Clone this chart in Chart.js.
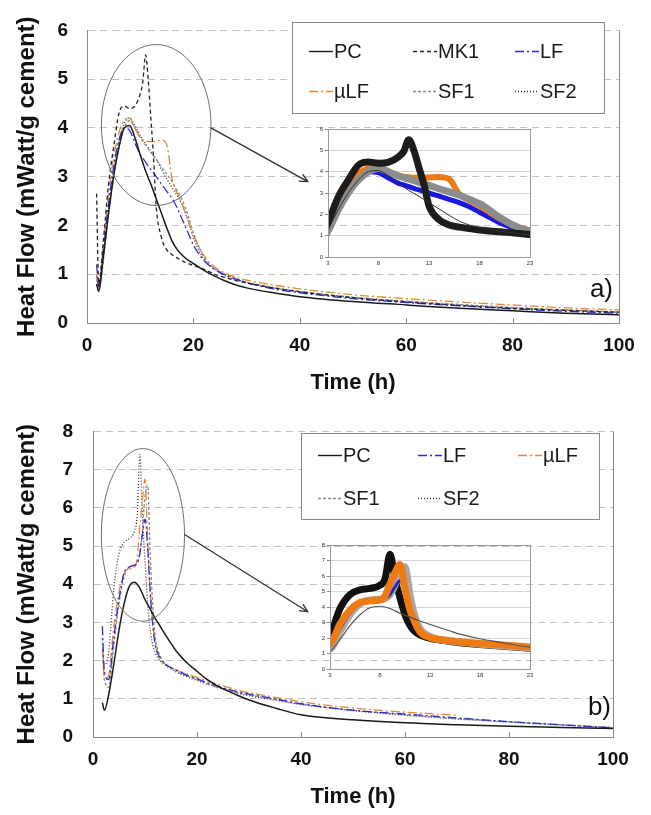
<!DOCTYPE html>
<html>
<head>
<meta charset="utf-8">
<script src="https://cdn.jsdelivr.net/npm/chart.js@4"></script>
<style>
  body { margin: 0; background: #fff; }
  #wrap { position: relative; width: 651px; height: 815px; }
  canvas { position: absolute; }
</style>
</head>
<body>
<div id="wrap">
  <canvas id="chartA" width="651" height="400" style="left:0;top:0"></canvas>
  <canvas id="insetA" width="230" height="150" style="left:310px;top:120px"></canvas>
  <canvas id="chartB" width="651" height="415" style="left:0;top:400px"></canvas>
  <canvas id="insetB" width="230" height="150" style="left:310px;top:535px"></canvas>
</div>
<script>
// tick values
var xTickVals = [0, 20, 40, 60, 80, 100];
var yTicksA = [0, 1, 2, 3, 4, 5, 6];
var yTicksB = [0, 1, 2, 3, 4, 5, 6, 7, 8];
var insetXTicks = [3, 8, 13, 18, 23];

// panel a) - time (h) and heat flow (mWatt/g cement)
var timesA = [1.8, 2.2, 3, 4, 5, 6, 7, 8, 9, 10, 10.5, 11, 11.5, 12, 12.5, 13, 14, 15, 16, 17, 18, 19, 20, 22, 24, 26, 28, 30, 35, 40, 50, 60, 70, 80, 90, 100];
var pcA  = [0.8, 0.65, 1.3, 2.2, 3.0, 3.6, 4.0, 4.05, 3.8, 3.45, 3.28, 3.12, 2.98, 2.85, 2.7, 2.55, 2.25, 1.95, 1.68, 1.5, 1.38, 1.29, 1.22, 1.08, 0.96, 0.86, 0.78, 0.72, 0.62, 0.54, 0.44, 0.37, 0.3, 0.25, 0.2, 0.17];
var mk1A = [2.65, 0.8, 1.6, 2.8, 3.6, 4.3, 4.45, 4.4, 4.45, 4.7, 4.95, 5.5, 5.0, 4.2, 3.4, 2.4, 1.75, 1.5, 1.4, 1.33, 1.27, 1.22, 1.18, 1.1, 1.0, 0.93, 0.87, 0.82, 0.72, 0.64, 0.52, 0.43, 0.36, 0.3, 0.26, 0.22];
var lfA  = [1.2, 0.75, 1.4, 2.4, 3.2, 3.75, 4.0, 3.95, 3.7, 3.45, 3.38, 3.3, 3.22, 3.15, 3.08, 3.0, 2.85, 2.7, 2.55, 2.35, 2.1, 1.85, 1.6, 1.28, 1.1, 0.98, 0.9, 0.83, 0.7, 0.62, 0.5, 0.42, 0.35, 0.29, 0.24, 0.2];
var ulfA = [1.0, 0.7, 1.5, 2.6, 3.4, 3.9, 4.15, 4.2, 4.0, 3.8, 3.76, 3.74, 3.72, 3.72, 3.72, 3.73, 3.75, 3.65, 2.95, 2.65, 2.4, 2.1, 1.8, 1.38, 1.15, 1.02, 0.94, 0.88, 0.78, 0.7, 0.58, 0.5, 0.43, 0.37, 0.31, 0.27];
var sf1A = [0.9, 0.65, 1.2, 2.2, 3.0, 3.6, 4.0, 4.15, 4.0, 3.8, 3.72, 3.65, 3.58, 3.5, 3.43, 3.36, 3.2, 3.05, 2.9, 2.7, 2.5, 2.2, 1.85, 1.35, 1.12, 1.0, 0.91, 0.84, 0.73, 0.65, 0.53, 0.45, 0.38, 0.32, 0.27, 0.23];
var sf2A = [1.0, 0.7, 1.3, 2.3, 3.1, 3.7, 4.1, 4.2, 4.05, 3.85, 3.76, 3.68, 3.6, 3.52, 3.44, 3.36, 3.15, 2.95, 2.78, 2.6, 2.4, 2.1, 1.75, 1.3, 1.1, 0.97, 0.89, 0.83, 0.72, 0.64, 0.52, 0.44, 0.37, 0.31, 0.26, 0.22];

// panel b)
var timesB = [1.8, 2.2, 3, 4, 5, 6, 7, 8, 8.5, 9, 9.5, 10, 10.5, 11, 11.5, 12, 13, 14, 15, 16, 18, 20, 22, 24, 26, 28, 30, 35, 40, 50, 60, 70, 80, 90, 100];
var pcB  = [0.9, 0.7, 1.1, 1.9, 2.8, 3.5, 3.95, 4.05, 4.0, 3.9, 3.75, 3.6, 3.47, 3.35, 3.22, 3.1, 2.88, 2.66, 2.45, 2.25, 1.95, 1.72, 1.5, 1.33, 1.2, 1.08, 0.97, 0.76, 0.58, 0.45, 0.37, 0.32, 0.28, 0.25, 0.22];
var lfB  = [2.9, 1.7, 1.5, 2.6, 3.6, 4.3, 4.45, 4.5, 4.55, 4.8, 5.3, 5.7, 5.0, 3.8, 2.9, 2.4, 2.05, 1.9, 1.82, 1.75, 1.62, 1.52, 1.42, 1.33, 1.25, 1.18, 1.12, 1.0, 0.87, 0.7, 0.6, 0.5, 0.4, 0.32, 0.24];
var ulfB = [2.3, 1.5, 1.6, 2.9, 3.8, 4.3, 4.4, 4.45, 4.7, 5.5, 6.2, 6.75, 5.2, 3.8, 3.0, 2.4, 2.02, 1.9, 1.82, 1.76, 1.65, 1.56, 1.47, 1.38, 1.3, 1.22, 1.16, 1.04, 0.92, 0.76, 0.65, 0.57, null, null, null];
var sf1B = [2.6, 1.5, 1.3, 2.4, 3.5, 4.2, 4.45, 4.5, 4.55, 4.8, 5.4, 6.3, 6.6, 4.8, 3.4, 2.6, 2.1, 1.9, 1.8, 1.72, 1.6, 1.5, 1.4, 1.3, 1.22, 1.15, 1.1, 0.98, 0.86, 0.7, 0.58, 0.48, 0.4, 0.32, 0.25];
var sf2B = [2.0, 1.9, 2.2, 3.9, 4.8, 5.1, 5.2, 5.4, 5.8, 7.4, 5.8, 4.6, 3.5, 2.8, 2.4, 2.2, 1.98, 1.87, 1.78, 1.7, 1.58, 1.48, 1.38, 1.29, 1.21, 1.14, 1.08, 0.96, 0.85, 0.69, 0.57, 0.47, 0.39, 0.31, 0.24];

Chart.defaults.font.family = "'Liberation Sans', Arial, sans-serif";
Chart.defaults.color = "#111";

function pts(times, vals) {
  return times.map(function (t, i) { return { x: t, y: vals[i] }; });
}
function ticksFrom(list) {
  return function (scale) {
    scale.ticks = list.map(function (v) { return { value: v }; });
  };
}

// ellipse, arrow, legend box, inner ticks, panel tag
var decor = {
  id: "decor",
  afterDatasetsDraw: function (chart, args, o) {
    if (!o || !o.ellipse) return;
    var ctx = chart.ctx, a = chart.chartArea, xs = chart.scales.x, ys = chart.scales.y;
    ctx.save();
    ctx.setLineDash([]);
    ctx.strokeStyle = "#8a8a8a";
    ctx.lineWidth = 1;
    ctx.beginPath();
    ctx.moveTo(Math.round(a.right) + 0.5, a.top);
    ctx.lineTo(Math.round(a.right) + 0.5, a.bottom);
    ctx.stroke();
    xs.ticks.forEach(function (t) {
      if (t.value <= xs.min || t.value >= xs.max) return;
      var px = Math.round(xs.getPixelForValue(t.value)) + 0.5;
      ctx.beginPath();
      ctx.moveTo(px, a.bottom);
      ctx.lineTo(px, a.bottom - 5);
      ctx.stroke();
    });

    var e = o.ellipse;
    var cx = xs.getPixelForValue(e.x), cy = ys.getPixelForValue(e.y);
    var rx = xs.getPixelForValue(e.x + e.rx) - cx;
    var ry = cy - ys.getPixelForValue(e.y + e.ry);
    ctx.strokeStyle = "#6f6f6f";
    ctx.beginPath();
    ctx.ellipse(cx, cy, rx, ry, 0, 0, 2 * Math.PI);
    ctx.stroke();

    var ar = o.arrow;
    var x0 = xs.getPixelForValue(ar.x0), y0 = ys.getPixelForValue(ar.y0);
    var x1 = xs.getPixelForValue(ar.x1), y1 = ys.getPixelForValue(ar.y1);
    var ang = Math.atan2(y1 - y0, x1 - x0);
    ctx.strokeStyle = "#333";
    ctx.lineWidth = 1.3;
    ctx.beginPath();
    ctx.moveTo(x0, y0);
    ctx.lineTo(x1, y1);
    ctx.moveTo(x1 - 9 * Math.cos(ang - 0.45), y1 - 9 * Math.sin(ang - 0.45));
    ctx.lineTo(x1, y1);
    ctx.lineTo(x1 - 9 * Math.cos(ang + 0.45), y1 - 9 * Math.sin(ang + 0.45));
    ctx.stroke();

    var b = o.legend.box;
    ctx.fillStyle = "#fff";
    ctx.fillRect(b[0], b[1], b[2], b[3]);
    ctx.strokeStyle = "#8a8a8a";
    ctx.lineWidth = 1;
    ctx.strokeRect(b[0] + 0.5, b[1] + 0.5, b[2], b[3]);
    ctx.font = "20px 'Liberation Sans', Arial, sans-serif";
    ctx.textBaseline = "middle";
    ctx.textAlign = "left";
    o.legend.items.forEach(function (it) {
      var ds = chart.data.datasets[it.ds];
      ctx.strokeStyle = ds.borderColor;
      ctx.lineWidth = 1.4;
      ctx.setLineDash(ds.borderDash || []);
      ctx.beginPath();
      ctx.moveTo(it.x, it.y + 0.5);
      ctx.lineTo(it.x + 24, it.y + 0.5);
      ctx.stroke();
      ctx.setLineDash([]);
      ctx.fillStyle = "#1a1a1a";
      ctx.fillText(ds.label, it.x + 25, it.y + 1);
    });

    ctx.font = "26px 'Liberation Sans', Arial, sans-serif";
    ctx.textAlign = "right";
    ctx.textBaseline = "alphabetic";
    ctx.fillStyle = "#111";
    ctx.fillText(o.tag.text, o.tag.x, o.tag.y);
    ctx.restore();
  }
};

var frame = {
  id: "frame",
  afterDraw: function (chart) {
    var a = chart.chartArea, ctx = chart.ctx;
    ctx.save();
    ctx.strokeStyle = "#9a9a9a";
    ctx.lineWidth = 1;
    ctx.strokeRect(Math.round(a.left) + 0.5, Math.round(a.top) + 0.5, Math.round(a.right - a.left), Math.round(a.bottom - a.top));
    ctx.restore();
  }
};

function mainOptions(c) {
  return {
    responsive: false,
    animation: false,
    devicePixelRatio: 1,
    layout: { padding: { left: 0, top: c.top, right: c.right, bottom: 0 } },
    elements: { point: { radius: 0 }, line: { borderWidth: 1.3, cubicInterpolationMode: "monotone" } },
    plugins: { legend: { display: false }, tooltip: { enabled: false }, decor: c.decor },
    scales: {
      x: {
        type: "linear", min: 0, max: 100,
        afterBuildTicks: ticksFrom(xTickVals),
        afterFit: function (s) { s.height = c.xh; },
        grid: { display: false, drawTicks: false },
        border: { color: "#8a8a8a" },
        ticks: { padding: c.xpad, color: "#111", font: { size: 19, weight: "bold" } },
        title: { display: true, text: "Time (h)", color: "#111", font: { size: 22, weight: "bold" }, padding: { top: 0, bottom: c.xtpad } }
      },
      y: {
        type: "linear", min: 0, max: c.ymax,
        afterBuildTicks: ticksFrom(c.yticks),
        afterFit: function (s) { s.width = c.yw; },
        grid: { color: "#c2c2c2", drawTicks: false },
        border: { color: "#8a8a8a", dash: [7, 5] },
        ticks: { padding: c.ypad, color: "#111", font: { size: 19, weight: "bold" } },
        title: { display: true, text: "Heat Flow (mWatt/g cement)", color: "#111", font: { size: 24, weight: "bold" }, padding: { top: 13, bottom: 0 } }
      }
    }
  };
}

function insetOptions(c) {
  return {
    responsive: false,
    animation: false,
    devicePixelRatio: 1,
    layout: { padding: { left: 0, top: c.top, right: 10, bottom: 0 } },
    elements: { point: { radius: 0 }, line: { cubicInterpolationMode: "monotone" } },
    plugins: { legend: { display: false }, tooltip: { enabled: false } },
    scales: {
      x: {
        type: "linear", min: 3, max: 23,
        afterBuildTicks: ticksFrom(insetXTicks),
        afterFit: function (s) { s.height = c.xh; },
        grid: { display: false, drawTicks: false },
        border: { color: "#9a9a9a" },
        ticks: { padding: 3, color: "#333", font: { size: 6 } }
      },
      y: {
        type: "linear", min: 0, max: c.ymax,
        afterBuildTicks: ticksFrom(c.yticks),
        afterFit: function (s) { s.width = c.yw; },
        grid: { color: "#d6d6d6", tickLength: 3, tickColor: "#888" },
        border: { color: "#9a9a9a" },
        ticks: { padding: 2, color: "#333", font: { size: 6 } }
      }
    }
  };
}

new Chart(document.getElementById("chartA"), {
  type: "line",
  data: {
    datasets: [
      { label: "PC", data: pts(timesA, pcA), borderColor: "#1a1a1a", borderWidth: 1.5 },
      { label: "MK1", data: pts(timesA, mk1A), borderColor: "#222", borderDash: [4, 3] },
      { label: "LF", data: pts(timesA, lfA), borderColor: "#2b2bd0", borderDash: [9, 3, 2, 3] },
      { label: "µLF", data: pts(timesA, ulfA), borderColor: "#e8872e", borderDash: [9, 3, 2, 3] },
      { label: "SF1", data: pts(timesA, sf1A), borderColor: "#8a8a8a", borderDash: [3, 2] },
      { label: "SF2", data: pts(timesA, sf2A), borderColor: "#333", borderDash: [1, 2] }
    ]
  },
  options: mainOptions({
    top: 14, right: 32, xh: 77, yw: 87, xpad: 11, ypad: 19, xtpad: 4, ymax: 6, yticks: yTicksA,
    decor: {
      ellipse: { x: 13.0, y: 4.06, rx: 10.3, ry: 1.65 },
      arrow: { x0: 23.3, y0: 4.0, x1: 41.5, y1: 2.9 },
      legend: {
        box: [292, 22, 312, 91],
        items: [
          { ds: 0, x: 309, y: 51 }, { ds: 1, x: 413, y: 51 }, { ds: 2, x: 515, y: 51 },
          { ds: 3, x: 309, y: 91 }, { ds: 4, x: 413, y: 91 }, { ds: 5, x: 515, y: 91 }
        ]
      },
      tag: { text: "a)", x: 613, y: 297 }
    }
  }),
  plugins: [decor]
});

new Chart(document.getElementById("insetA"), {
  type: "line",
  data: {
    datasets: [
      { label: "PC", data: pts(timesA, pcA), borderColor: "#333", borderWidth: 1 },
      { label: "MK1", data: pts(timesA, mk1A), borderColor: "#1c1c1c", borderWidth: 7 },
      { label: "SF1", data: pts(timesA, sf1A), borderColor: "#8c8c8c", borderWidth: 7 },
      { label: "µLF", data: pts(timesA, ulfA), borderColor: "#ee7a16", borderWidth: 6 },
      { label: "LF", data: pts(timesA, lfA), borderColor: "#1818e0", borderWidth: 5 },
      { label: "SF2", data: pts(timesA, sf2A), borderColor: "#666", borderWidth: 1 }
    ]
  },
  options: insetOptions({ top: 9, xh: 13, yw: 18, ymax: 6, yticks: yTicksA }),
  plugins: [frame]
});

new Chart(document.getElementById("chartB"), {
  type: "line",
  data: {
    datasets: [
      { label: "PC", data: pts(timesB, pcB), borderColor: "#1a1a1a", borderWidth: 1.5 },
      { label: "LF", data: pts(timesB, lfB), borderColor: "#2b2bd0", borderDash: [9, 3, 2, 3] },
      { label: "µLF", data: pts(timesB, ulfB), borderColor: "#e8872e", borderDash: [9, 3, 2, 3] },
      { label: "SF1", data: pts(timesB, sf1B), borderColor: "#8a8a8a", borderDash: [3, 2] },
      { label: "SF2", data: pts(timesB, sf2B), borderColor: "#333", borderDash: [1, 2] }
    ]
  },
  options: mainOptions({
    top: 27, right: 38, xh: 78, yw: 93, xpad: 11, ypad: 20, xtpad: 5, ymax: 8, yticks: yTicksB,
    decor: {
      ellipse: { x: 9.6, y: 5.29, rx: 8.0, ry: 2.26 },
      arrow: { x0: 17.6, y0: 5.3, x1: 41.3, y1: 3.28 },
      legend: {
        box: [301, 33, 298, 86],
        items: [
          { ds: 0, x: 318, y: 55 }, { ds: 1, x: 418, y: 55 }, { ds: 2, x: 518, y: 55 },
          { ds: 3, x: 318, y: 98 }, { ds: 4, x: 418, y: 98 }
        ]
      },
      tag: { text: "b)", x: 611, y: 315 }
    }
  }),
  plugins: [decor]
});

new Chart(document.getElementById("insetB"), {
  type: "line",
  data: {
    datasets: [
      { label: "PC", data: pts(timesB, pcB), borderColor: "#555", borderWidth: 1.2 },
      { label: "µLF", data: pts(timesB, ulfB), borderColor: "#f07a12", borderWidth: 7 },
      { label: "LF", data: pts(timesB, lfB), borderColor: "#2222c8", borderWidth: 3 },
      { label: "SF1", data: pts(timesB, sf1B), borderColor: "#a8a8a8", borderWidth: 7 },
      { label: "SF2", data: pts(timesB, sf2B), borderColor: "#111", borderWidth: 7 }
    ]
  },
  options: insetOptions({ top: 10, xh: 16, yw: 20, ymax: 8, yticks: yTicksB }),
  plugins: [frame]
});
</script>
</body>
</html>
